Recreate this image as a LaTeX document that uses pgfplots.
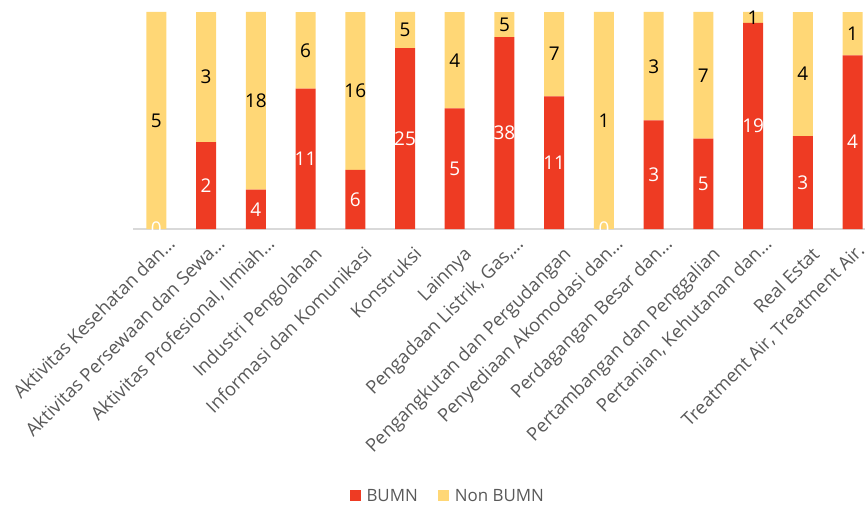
\documentclass[border=0pt]{standalone}
\usepackage{fontspec}
\setmainfont{Open Sans}
\usepackage{pgfplots}
\pgfplotsset{compat=1.18}
\usepackage{pgfplotstable}
\definecolor{bumn}{RGB}{238,59,35}
\definecolor{nonb}{RGB}{255,215,118}
\definecolor{lbl}{RGB}{89,89,89}

\newcommand\F[1]{\rule{0pt}{20bp}#1\hspace*{9bp}}
\newcommand\T[1]{\rule{0pt}{14bp}#1}

\pgfplotstableread{
x b n
0 0 5
1 2 3
2 4 18
3 11 6
4 6 16
5 25 5
6 5 4
7 38 5
8 11 7
9 0 1
10 3 3
11 5 7
12 19 1
13 3 4
14 4 1
}\data

\pgfplotsset{geom/.style={
  at={(133bp,277bp)}, anchor=south west,
  scale only axis, width=732bp, height=217bp,
  xmin=-0.47, xmax=14.25, ymin=0, ymax=100,
  clip=false,
  /pgf/number format/assume math mode=true,
}}

\begin{document}
\begin{tikzpicture}
\begin{axis}[geom,
  ybar stacked, bar width=20bp,
  axis x line*=bottom, axis y line=none,
  x axis line style={draw=black!15, line width=1.2pt, -},
  xtick={0,...,14}, major tick length=0pt,
  xticklabels={{\T{Aktivitas Kesehatan dan…}},{\T{Aktivitas Persewaan dan Sewa…}},{\T{Aktivitas Profesional, Ilmiah…}},{\F{Industri Pengolahan}},{\F{Informasi dan Komunikasi}},{\F{Konstruksi}},{\F{Lainnya}},{\T{Pengadaan Listrik, Gas,…}},{\F{Pengangkutan dan Pergudangan}},{\T{Penyediaan Akomodasi dan…}},{\T{Perdagangan Besar dan…}},{\F{Pertambangan dan Penggalian}},{\T{Pertanian, Kehutanan dan…}},{\F{Real Estat}},{\T{Treatment Air, Treatment Air…}}},
  xticklabel style={rotate=45, anchor=north east, font=\fontsize{18.5}{18.5}\selectfont, text=lbl, inner sep=2pt, xshift=5bp, yshift=-9bp},
  ytick=\empty,
  legend style={at={(0.43,-1.23)}, anchor=center, draw=none, legend columns=2,
    font=\fontsize{17}{17}\selectfont, text=lbl,
    /tikz/every even column/.append style={column sep=18bp},
    /tikz/every odd column/.append style={column sep=4bp}},
  legend image code/.code={\fill[#1] (0bp,-5.5bp) rectangle (11bp,5.5bp);},
]
\addplot[fill=bumn, draw=none] table[x=x, y expr={100*\thisrow{b}/(\thisrow{b}+\thisrow{n})}] {\data};
\addlegendentry{BUMN}
\addplot[fill=nonb, draw=none] table[x=x, y expr={100*\thisrow{n}/(\thisrow{b}+\thisrow{n})}] {\data};
\addlegendentry{Non BUMN}
\end{axis}
\begin{axis}[geom, hide axis]
\addplot[draw=none, mark=none, nodes near coords, point meta=explicit,
  nodes near coords style={anchor=center, text=white, font=\fontsize{19}{19}\selectfont}]
  table[x=x, y expr={50*\thisrow{b}/(\thisrow{b}+\thisrow{n})}, meta=b] {\data};
\addplot[draw=none, mark=none, nodes near coords, point meta=explicit,
  nodes near coords style={anchor=center, text=black, font=\fontsize{19}{19}\selectfont}]
  table[x=x, y expr={100*(\thisrow{b}+0.5*\thisrow{n})/(\thisrow{b}+\thisrow{n})}, meta=n] {\data};
\end{axis}
\pgfresetboundingbox
\useasboundingbox (0,0) rectangle (865bp,506bp);
\end{tikzpicture}
\end{document}
